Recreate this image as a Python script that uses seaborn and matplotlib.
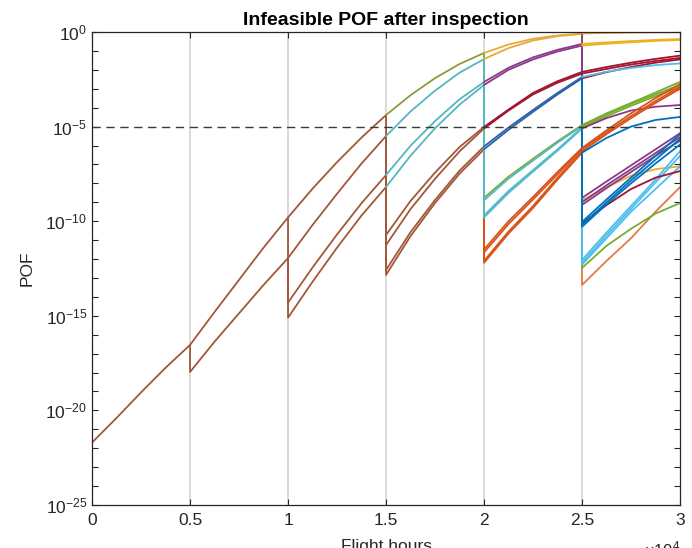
import numpy as np
import pandas as pd
import matplotlib
matplotlib.use('Agg')
import matplotlib.pyplot as plt
import seaborn as sns

# start of every inspection interval (flight hours) and the sample offsets inside it
seg_start = [0, 5000, 10000, 15000, 20000, 25000]
offsets = [0, 1250, 2500, 3750, 5000]
threshold = 1e-5

x_ticks = [0, 5000, 10000, 15000, 20000, 25000, 30000]
x_labels = ['0', '0.5', '1', '1.5', '2', '2.5', '3']
y_decades = [-25, -20, -15, -10, -5, 0]

# log10(POF).
# *_from = log10(POF) just before the inspection drop (None -> curve just continues)
seg0_from = [None]
seg0_log = [[-21.7, -20.4, -19.05, -17.75, -16.54]]
seg0_col = ['brown']

seg1_from = [None, -16.54]
seg1_log = [[-16.54, -14.8, -13.1, -11.4, -9.8],
            [-17.97, -16.37, -14.87, -13.37, -11.95]]
seg1_col = ['brown', 'brown']

seg2_from = [None, None, -9.8, -11.95]
seg2_log = [[-9.8, -8.28, -6.88, -5.58, -4.39],
            [-11.95, -10.2, -8.55, -6.95, -5.5],
            [-14.3, -12.45, -10.7, -9.05, -7.56],
            [-15.1, -13.2, -11.4, -9.7, -8.19]]
seg2_col = ['brown', 'brown', 'brown', 'brown']

seg3_from = [-4.39, -5.5, -7.56, -8.19, None, None, None, None]
seg3_log = [[-10.73, -8.93, -7.43, -6.08, -5.02],
            [-11.26, -9.36, -7.76, -6.31, -5.1],
            [-12.58, -10.58, -8.88, -7.33, -6.05],
            [-12.84, -10.79, -9.04, -7.49, -6.2],
            [-4.39, -3.34, -2.44, -1.69, -1.11],
            [-5.5, -4.2, -3.1, -2.15, -1.43],
            [-7.56, -6.01, -4.71, -3.56, -2.64],
            [-8.19, -6.54, -5.09, -3.84, -2.8]]
seg3_col = ['brown', 'brown', 'brown', 'brown', 'olive', 'teal', 'teal', 'teal']

seg4_from = [-5.02, -5.1, -6.05, -6.2, -1.11, -1.43, -2.64, -2.8,
             None, None, None, None, None, None, None, None]
seg4_log = [[-11.5, -10.0, -8.72, -7.4, -6.13],
            [-11.65, -10.15, -8.85, -7.52, -6.2],
            [-12.1, -10.55, -9.2, -7.7, -6.3],
            [-12.2, -10.65, -9.3, -7.8, -6.38],
            [-8.77, -7.65, -6.7, -5.78, -4.92],
            [-8.9, -7.75, -6.8, -5.85, -4.97],
            [-9.7, -8.4, -7.3, -6.2, -5.05],
            [-9.8, -8.5, -7.38, -6.27, -5.1],
            [-1.43, -0.85, -0.45, -0.22, -0.1],
            [-1.11, -0.66, -0.36, -0.18, -0.08],
            [-2.64, -1.89, -1.34, -0.94, -0.63],
            [-2.8, -2.0, -1.45, -1.03, -0.72],
            [-5.02, -4.1, -3.22, -2.6, -2.11],
            [-5.1, -4.15, -3.3, -2.68, -2.2],
            [-6.05, -5.05, -4.12, -3.22, -2.38],
            [-6.2, -5.17, -4.22, -3.3, -2.45]]
seg4_col = ['orange', 'orange', 'orange', 'orange', 'green', 'cyan', 'cyan', 'cyan',
            'gold', 'gold', 'purple', 'purple', 'red', 'red', 'dblue', 'dblue']

seg5_from = [-0.1, -0.08, -0.63, -0.72, -6.13, -5.1, -4.92, -4.97, -5.05, -2.2,
             -2.11, -2.38, -2.45,
             None, None, None, None, None, None, None, None, None, None, None, None,
             None, None, None, None]
seg5_log = [[-8.9, -8.2, -7.6, -7.25, -7.1],
            [-8.77, -7.9, -7.05, -6.2, -5.35],
            [-9.0, -8.1, -7.25, -6.4, -5.55],
            [-9.14, -8.25, -7.4, -6.55, -5.75],
            [-13.37, -12.1, -10.9, -9.5, -8.2],
            [-12.47, -11.3, -10.4, -9.6, -9.04],
            [-12.05, -10.6, -9.2, -7.8, -6.3],
            [-12.2, -10.75, -9.35, -7.95, -6.55],
            [-12.3, -10.9, -9.5, -8.3, -7.1],
            [-10.1, -9.15, -8.3, -7.7, -7.35],
            [-10.04, -8.85, -7.7, -6.55, -5.4],
            [-10.2, -9.0, -7.85, -6.75, -5.65],
            [-10.3, -9.1, -8.0, -6.95, -5.95],
            [-0.08, -0.05, -0.03, -0.02, -0.01],
            [-0.63, -0.55, -0.48, -0.42, -0.37],
            [-0.72, -0.62, -0.54, -0.47, -0.42],
            [-2.11, -1.85, -1.62, -1.42, -1.25],
            [-2.2, -1.95, -1.72, -1.53, -1.37],
            [-2.45, -2.12, -1.85, -1.62, -1.45],
            [-2.38, -2.1, -1.9, -1.75, -1.66],
            [-4.92, -4.3, -3.75, -3.2, -2.64],
            [-4.97, -4.35, -3.8, -3.3, -2.8],
            [-5.05, -4.45, -3.9, -3.4, -2.9],
            [-5.1, -4.55, -4.15, -3.95, -3.86],
            [-6.13, -5.2, -4.3, -3.5, -2.75],
            [-6.2, -5.3, -4.45, -3.65, -2.9],
            [-6.3, -5.4, -4.55, -3.75, -3.0],
            [-6.38, -5.6, -5.0, -4.65, -4.49]]
seg5_col = ['yellow', 'purple', 'purple', 'purple', 'salmon', 'green', 'lblue', 'lblue',
            'lblue', 'red', 'blue', 'blue', 'blue',
            'gold', 'yellow', 'yellow', 'red', 'red', 'red', 'lblue',
            'green', 'green', 'green', 'purple', 'orange', 'orange', 'orange', 'blue']

colors = {'brown': '#A3573A', 'olive': '#8E9A3C', 'teal': '#55B6C2', 'cyan': '#55BACB',
          'orange': '#D95319', 'gold': '#E9A93A', 'purple': '#8B3A87', 'red': '#A2142F',
          'dblue': '#2D62A8', 'blue': '#0072BD', 'lblue': '#4DBEEE', 'green': '#77AC30',
          'yellow': '#EDB120', 'salmon': '#E47A45'}

segments = [(seg0_from, seg0_log, seg0_col), (seg1_from, seg1_log, seg1_col),
            (seg2_from, seg2_log, seg2_col), (seg3_from, seg3_log, seg3_col),
            (seg4_from, seg4_log, seg4_col), (seg5_from, seg5_log, seg5_col)]

rows = []
palette = {}
n = 0
for t0, (froms, logs, cols) in zip(seg_start, segments):
    for f, vals, c in zip(froms, logs, cols):
        name = f'p{n:03d}'
        if f is not None:
            rows.append((name, t0, 10.0 ** f))
        for dx, v in zip(offsets, vals):
            rows.append((name, t0 + dx, 10.0 ** v))
        palette[name] = colors[c]
        n += 1
df = pd.DataFrame(rows, columns=['path', 'hours', 'pof'])

sns.set_style('white')
plt.rcParams['font.family'] = ['Liberation Sans', 'DejaVu Sans']
plt.rcParams['mathtext.default'] = 'regular'

fig = plt.figure(figsize=(6.92, 5.48), dpi=100)
ax = fig.add_axes([0.133, 0.0785, 0.8497, 0.8631])
ax.set_yscale('log')

for xv in x_ticks[1:-1]:
    ax.axvline(xv, color='#d4d4d4', lw=1.2, zorder=0)

sns.lineplot(data=df, x='hours', y='pof', hue='path', palette=palette, units='path',
             estimator=None, sort=False, legend=False, linewidth=1.3, ax=ax)

ax.axhline(threshold, color='#3a3a3a', lw=1.0, ls=(0, (6, 4)))

ax.set_xlim(0, 30000)
ax.set_ylim(1e-25, 1)
ax.set_xticks(x_ticks)
ax.set_xticklabels(x_labels)
ax.set_yticks([10.0 ** k for k in y_decades])
ax.set_yticklabels([f'$10^{{{k}}}$' for k in y_decades])
ax.set_yticks([10.0 ** k for k in range(-25, 1)], minor=True)
ax.yaxis.set_minor_formatter(matplotlib.ticker.NullFormatter())
ax.tick_params(which='both', direction='in', top=True, right=True, bottom=True, left=True,
               length=4, width=0.8, colors='#262626', labelsize=12.5)
ax.tick_params(axis='x', pad=6)
for s in ax.spines.values():
    s.set_color('#262626')
    s.set_linewidth(0.9)

ax.set_title('Infeasible POF after inspection', fontsize=14, fontweight='bold', pad=5,
             color='black')
ax.set_ylabel('POF', fontsize=12.5, color='#262626', labelpad=8)
ax.set_xlabel('Flight hours', fontsize=12.5, color='#262626', labelpad=8)
ax.text(1.0, -0.074, r'$\times10^{4}$', transform=ax.transAxes, ha='right', va='top',
        fontsize=12, color='#262626')

fig.savefig('out.png', dpi=100)
